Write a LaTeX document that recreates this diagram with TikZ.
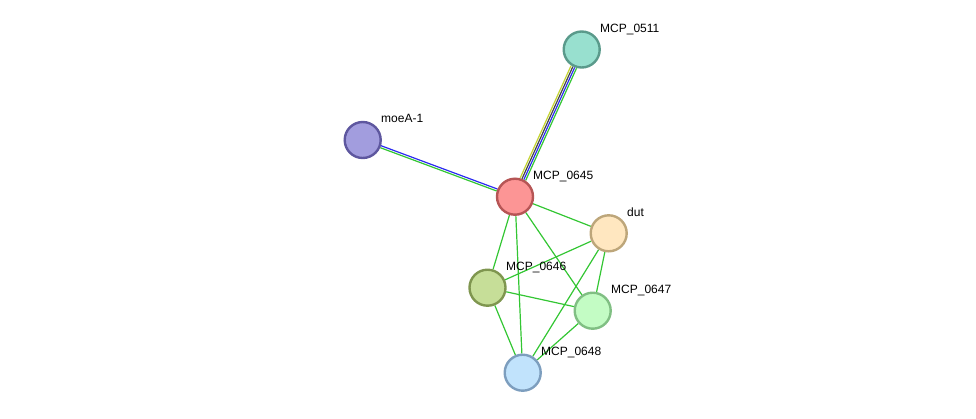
\documentclass[tikz,border=0pt]{standalone}
\usepackage{fontspec}
\setmainfont{Liberation Sans}
\usetikzlibrary{backgrounds}
\definecolor{e0511f}{HTML}{98E0CF}\definecolor{e0511d}{HTML}{5A9A8B}
\definecolor{moef}{HTML}{A29DDE}\definecolor{moed}{HTML}{5E579F}
\definecolor{c45f}{HTML}{FC9595}\definecolor{c45d}{HTML}{B65555}
\definecolor{dutf}{HTML}{FFE7C0}\definecolor{dutd}{HTML}{BDA67A}
\definecolor{c46f}{HTML}{C6DE98}\definecolor{c46d}{HTML}{7F964F}
\definecolor{c47f}{HTML}{C3FCC4}\definecolor{c47d}{HTML}{80BF83}
\definecolor{c48f}{HTML}{C1E3FC}\definecolor{c48d}{HTML}{7D9EBE}
\definecolor{egreen}{HTML}{33C633}
\definecolor{eblue}{HTML}{2B2BF0}
\definecolor{eyellow}{HTML}{C4D431}
\definecolor{eblack}{HTML}{444444}
\tikzset{
  prot/.style={circle, draw, line width=2.4pt, minimum size=36pt, inner sep=0pt},
  lbl/.style={anchor=base west, font=\fontsize{12}{14}\selectfont, text=black, inner sep=0pt},
  edge/.style={line width=1.2pt, egreen},
}
\begin{document}
\begin{tikzpicture}[x=1pt,y=-1pt]
\useasboundingbox (0,0) rectangle (976,418);
\node[prot, fill=e0511f, draw=e0511d] (n0511) at (581.7,49.5) {};
\node[prot, fill=moef, draw=moed] (moe) at (362.7,140) {};
\node[prot, fill=c45f, draw=c45d] (n0645) at (515,196.7) {};
\node[prot, fill=dutf, draw=dutd] (dut) at (608.7,233.3) {};
\node[prot, fill=c46f, draw=c46d] (n0646) at (487.5,287.7) {};
\node[prot, fill=c47f, draw=c47d] (n0647) at (592.7,310.7) {};
\node[prot, fill=c48f, draw=c48d] (n0648) at (522.7,372.7) {};
\node[lbl] (l0511) at (600,32) {MCP\_0511};
\node[lbl] (lmoe) at (381,122) {moeA-1};
\node[lbl] (l0645) at (533,179) {MCP\_0645};
\node[lbl] (ldut) at (627,216) {dut};
\node[lbl] (l0646) at (506,270) {MCP\_0646};
\node[lbl] (l0647) at (611,293) {MCP\_0647};
\node[lbl] (l0648) at (541,355) {MCP\_0648};
\begin{scope}[on background layer]
\draw[edge, eyellow, transform canvas={shift={(-2.73pt,1.25pt)}}] (n0645) -- (n0511);
\draw[edge, eblack, transform canvas={shift={(-0.91pt,0.42pt)}}] (n0645) -- (n0511);
\draw[edge, eblue, transform canvas={shift={(0.91pt,-0.42pt)}}] (n0645) -- (n0511);
\draw[edge, egreen, transform canvas={shift={(2.73pt,-1.25pt)}}] (n0645) -- (n0511);
\draw[edge, eblue, transform canvas={shift={(0.35pt,1.0pt)}}] (moe) -- (n0645);
\draw[edge, egreen, transform canvas={shift={(-0.35pt,-1.0pt)}}] (moe) -- (n0645);
\draw[edge] (n0645) -- (dut);
\draw[edge] (n0645) -- (n0646);
\draw[edge] (n0645) -- (n0647);
\draw[edge] (n0645) -- (n0648);
\draw[edge] (dut) -- (n0646);
\draw[edge] (dut) -- (n0647);
\draw[edge] (dut) -- (n0648);
\draw[edge] (n0646) -- (n0647);
\draw[edge] (n0646) -- (n0648);
\draw[edge] (n0647) -- (n0648);
\end{scope}
\end{tikzpicture}
\end{document}
